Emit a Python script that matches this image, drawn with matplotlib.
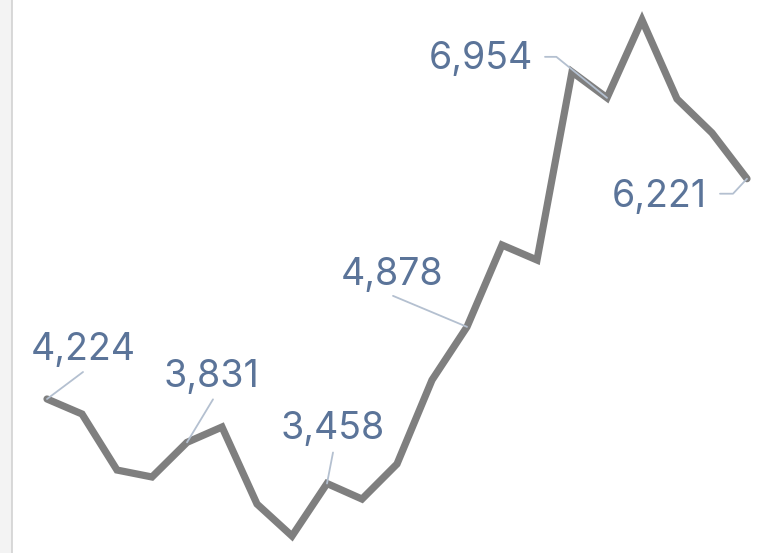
import matplotlib
matplotlib.use("Agg")
import matplotlib.pyplot as plt
from matplotlib.patches import Rectangle
from matplotlib.lines import Line2D

# data
values = [4224, 4088, 3580, 3517, 3831, 3970, 3272, 2982, 3458, 3317,
          3635, 4396, 4878, 5620, 5484, 7189, 6954, 7660, 6944, 6636, 6221]
labelled = [0, 4, 8, 12, 16, 20]

text_col = "#5b7499"
lead_col = "#b4c0d0"

# text offset, leader start offset (pixels) and leader style per label
label_pos = {
    0: ((36, 39), (36, 27), "arc3"),
    4: ((24, 55), (26, 43), "arc3"),
    8: ((6, 45), (6, 31), "arc3"),
    12: ((-75, 42), (-74, 31), "arc3"),
    16: ((-74, 29), (-62, 41), "angle,angleA=0,angleB=141,rad=0"),
    20: ((-40, -28), (-27, -15), "angle,angleA=0,angleB=47,rad=0"),
}


def main():
    fig = plt.figure(figsize=(7.74, 5.53), dpi=100)
    ax = fig.add_axes([0, 0, 1, 1])

    # left panel edge
    fig.patches.append(Rectangle((0, 0), 12 / 774, 1, transform=fig.transFigure,
                                 facecolor="#f3f3f3", edgecolor="none"))
    fig.lines.append(Line2D([12.5 / 774, 12.5 / 774], [0, 1], transform=fig.transFigure,
                            color="#d2d2d2", lw=1.2))

    x = list(range(len(values)))
    ax.plot(x, values, color="#7f7f7f", lw=5.2, solid_joinstyle="miter",
            solid_capstyle="round", zorder=2)

    for i in labelled:
        toff, loff, cs = label_pos[i]
        v = values[i]
        ha = "center" if i in (0, 4, 8, 12) else "right"
        ax.annotate(f"{v:,}", xy=(i, v), xytext=toff, textcoords="offset pixels",
                    ha=ha, va="baseline", color=text_col, fontsize=27,
                    family="Inter", zorder=4)
        ax.annotate("", xy=(i, v), xytext=loff, textcoords="offset pixels",
                    arrowprops=dict(arrowstyle="-", color=lead_col, lw=1.3,
                                    connectionstyle=cs, shrinkA=0, shrinkB=0),
                    zorder=3)

    ax.set_xlim(-47 / 35, 727 / 35)
    ax.set_ylim(2828, 7841)
    ax.axis("off")

    fig.savefig("out.png", dpi=100)


main()
